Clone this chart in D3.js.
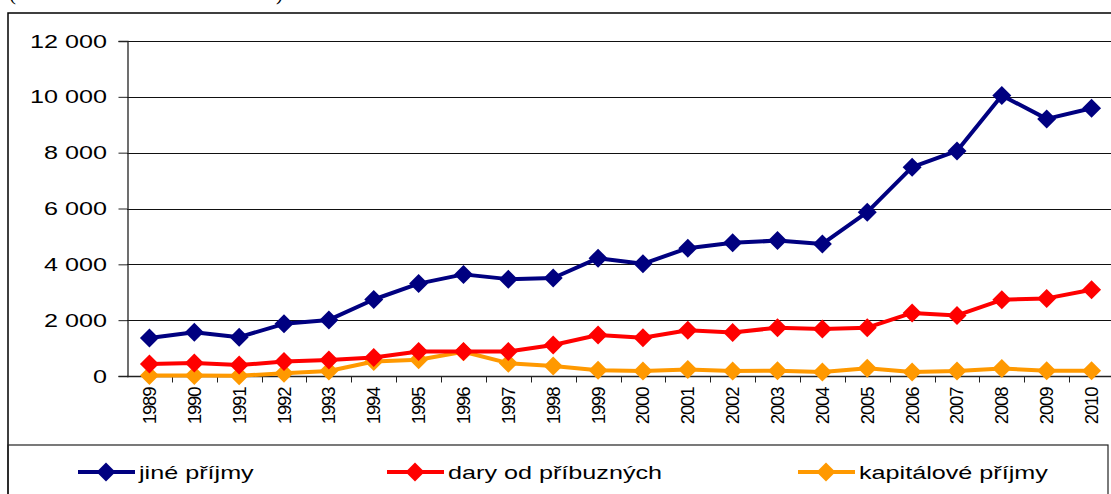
<!DOCTYPE html>
<html>
<head>
<meta charset="utf-8">
<script src="https://cdn.jsdelivr.net/npm/d3@7"></script>
<style>
  body { margin: 0; background: #fff; }
  svg { display: block; font-family: Arial, "Liberation Sans", sans-serif; }
</style>
</head>
<body>
<div id="chart"></div>
<script>
// data
const years = ["1989","1990","1991","1992","1993","1994","1995","1996","1997","1998","1999",
               "2000","2001","2002","2003","2004","2005","2006","2007","2008","2009","2010"];
const jinePrijmy = [1360, 1570, 1390, 1870, 2010, 2740, 3310, 3640, 3470, 3510, 4220,
                    4020, 4580, 4770, 4850, 4730, 5870, 7480, 8060, 10050, 9210, 9590];
const daryOdPribuznych = [430, 470, 390, 520, 570, 660, 880, 880, 880, 1110, 1470,
                          1370, 1640, 1560, 1730, 1680, 1730, 2260, 2170, 2730, 2780, 3090];
const kapitalovePrijmy = [20, 20, 10, 100, 180, 520, 580, 870, 460, 360, 210,
                          180, 230, 180, 190, 140, 280, 140, 180, 270, 190, 190];
const seriesNames = ["jiné příjmy", "dary od příbuzných", "kapitálové příjmy"];
const seriesColors = ["#000080", "#ff0000", "#ff9900"];
const yTicks = [0, 2000, 4000, 6000, 8000, 10000, 12000];

const width = 1111, height = 494;
const margin = {left: 127, top: 41, right: 1114, bottom: 376};

const svg = d3.select("#chart").append("svg")
    .attr("width", width).attr("height", height);

// cut off caption at the very top
svg.append("text").attr("x", 9).attr("y", 0).attr("font-family", "Liberation Serif, serif")
    .attr("font-size", 21).text("(");
svg.append("text").attr("x", 276).attr("y", 0).attr("font-family", "Liberation Serif, serif")
    .attr("font-size", 21).text(")");

// outer frame and legend frame
svg.append("rect").attr("x", 8).attr("y", 13).attr("width", 1120).attr("height", 500)
    .attr("fill", "none").attr("stroke", "#000").attr("stroke-width", 1.5);
svg.append("rect").attr("x", 8).attr("y", 445).attr("width", 1100).attr("height", 60)
    .attr("fill", "none").attr("stroke", "#222").attr("stroke-width", 1.2);

const x = d3.scaleBand().domain(years).range([margin.left, margin.right]);
const y = d3.scaleLinear().domain([0, 12000]).range([margin.bottom, margin.top]);
const fmt = d3.formatLocale({decimal: ",", thousands: " ", grouping: [3], currency: ["", ""]}).format(",");

// gridlines
svg.append("g").selectAll("line").data(yTicks.slice(1)).join("line")
    .attr("x1", margin.left).attr("x2", margin.right)
    .attr("y1", d => Math.round(y(d)) + 0.5).attr("y2", d => Math.round(y(d)) + 0.5)
    .attr("stroke", "#111").attr("stroke-width", 1);

// y axis
const yAxis = svg.append("g").attr("transform", `translate(${margin.left + 0.5},0)`)
    .call(d3.axisLeft(y).tickValues(yTicks).tickSize(9).tickFormat(""));
yAxis.select(".domain").attr("stroke", "#222").attr("stroke-width", 1.3);
yAxis.selectAll(".tick line").attr("stroke", "#222");
svg.append("g").selectAll("text").data(yTicks).join("text")
    .attr("transform", d => `translate(107,${y(d) + 6.5}) scale(1.4,1)`)
    .attr("text-anchor", "end").attr("font-size", 18).attr("fill", "#000")
    .text(d => fmt(d));

// x axis: ticks between categories
const xAxisG = svg.append("g").attr("transform", `translate(0,${margin.bottom + 0.5})`);
xAxisG.append("line").attr("x1", margin.left).attr("x2", margin.right)
    .attr("stroke", "#222").attr("stroke-width", 1.3);
xAxisG.selectAll("line.tk").data(years.slice(1)).join("line").attr("class", "tk")
    .attr("x1", d => Math.round(x(d)) + 0.5).attr("x2", d => Math.round(x(d)) + 0.5)
    .attr("y1", 0).attr("y2", 6).attr("stroke", "#222");
xAxisG.selectAll("text").data(years).join("text")
    .attr("transform", d => `translate(${x(d) + x.bandwidth() / 2 + 6.5},11) rotate(-90)`)
    .attr("text-anchor", "end").attr("font-size", 18.5).attr("letter-spacing", -1.1)
    .attr("fill", "#000").text(d => d);

// series
const seriesData = [jinePrijmy, daryOdPribuznych, kapitalovePrijmy];
const diamond = r => `M0,${-r}L${r},0L0,${r}L${-r},0Z`;
const line = d3.line().x((d, i) => x(years[i]) + x.bandwidth() / 2).y(d => y(d));

// draw bottom series first so navy sits on top
[2, 1, 0].forEach(k => {
  const g = svg.append("g");
  g.append("path").datum(seriesData[k]).attr("d", line)
      .attr("fill", "none").attr("stroke", seriesColors[k]).attr("stroke-width", 4)
      .attr("stroke-linejoin", "round");
  g.selectAll("path.m").data(seriesData[k]).join("path").attr("class", "m")
      .attr("transform", (d, i) => `translate(${x(years[i]) + x.bandwidth() / 2},${y(d)})`)
      .attr("d", diamond(9.5)).attr("fill", seriesColors[k]);
});

// legend
const legendX = [78, 387, 798];
const legendY = 472;
const legend = svg.append("g");
seriesNames.forEach((name, k) => {
  const lg = legend.append("g").attr("transform", `translate(${legendX[k]},${legendY})`);
  lg.append("line").attr("x1", 0).attr("x2", 57).attr("stroke", seriesColors[k]).attr("stroke-width", 4);
  lg.append("path").attr("transform", "translate(28,0)").attr("d", diamond(9.5)).attr("fill", seriesColors[k]);
  lg.append("text").attr("transform", "translate(61,6.5) scale(1.4,1)")
      .attr("font-size", 18).attr("fill", "#000").text(name);
});
</script>
</body>
</html>
